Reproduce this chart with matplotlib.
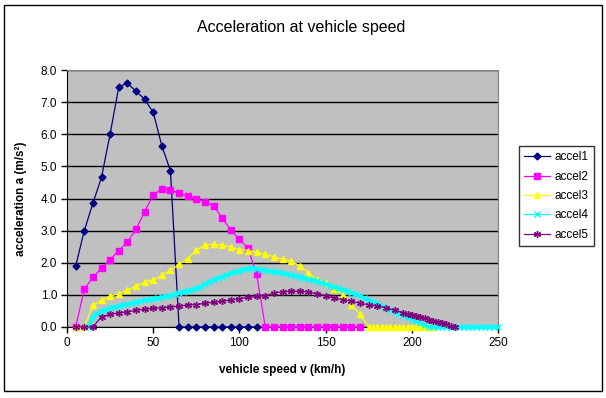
import matplotlib
matplotlib.use('Agg')
import matplotlib.pyplot as plt
from matplotlib.patches import Rectangle

plt.rcParams['font.family'] = ['Liberation Sans', 'DejaVu Sans']

# accel1 (1st gear)
speed1 = [5, 10, 15, 20, 25, 30, 35, 40, 45, 50, 55, 60, 65, 70, 75, 80, 85, 90, 95, 100, 105, 110]
accel1 = [1.89, 3.0, 3.85, 4.66, 6.01, 7.47, 7.59, 7.34, 7.09, 6.68, 5.64, 4.86,
          0, 0, 0, 0, 0, 0, 0, 0, 0, 0]

# accel2
speed2 = [5, 10, 15, 20, 25, 30, 35, 40, 45, 50, 55, 60, 65, 70, 75, 80, 85, 90, 95, 100, 105, 110,
          115, 120, 125, 130, 135, 140, 145, 150, 155, 160, 165, 170]
accel2 = [0, 1.17, 1.55, 1.83, 2.1, 2.38, 2.64, 3.04, 3.59, 4.11, 4.3, 4.27, 4.16, 4.08, 3.98, 3.9,
          3.78, 3.39, 3.02, 2.73, 2.45, 1.64,
          0, 0, 0, 0, 0, 0, 0, 0, 0, 0, 0, 0]

# accel3
speed3 = [5, 10, 15, 20, 25, 30, 35, 40, 45, 50, 55, 60, 65, 70, 75, 80, 85, 90, 95, 100, 105, 110,
          115, 120, 125, 130, 135, 140, 145, 150, 155, 160, 165, 170,
          175, 177.5, 180, 182.5, 185, 187.5, 190, 192.5, 195, 197.5, 200, 202.5, 205, 207.5, 210, 212.5]
accel3 = [0, 0, 0.67, 0.83, 0.96, 1.04, 1.15, 1.27, 1.40, 1.46, 1.61, 1.77, 1.95, 2.13, 2.39, 2.55,
          2.58, 2.55, 2.49, 2.41, 2.38, 2.33, 2.27, 2.18, 2.12, 2.04, 1.91, 1.68, 1.48, 1.36, 1.19,
          1.01, 0.70, 0.39,
          0, 0, 0, 0, 0, 0, 0, 0, 0, 0, 0, 0, 0, 0, 0, 0]

# accel4
speed4 = [12.5, 15, 17.5, 20, 22.5, 25, 27.5, 30, 32.5, 35, 37.5, 40, 42.5, 45, 47.5, 50,
          52.5, 55, 57.5, 60, 62.5, 65, 67.5, 70, 72.5, 75, 77.5, 80, 82.5, 85, 87.5, 90,
          92.5, 95, 97.5, 100, 102.5, 105, 107.5, 110, 112.5, 115, 117.5, 120, 122.5, 125,
          127.5, 130, 132.5, 135, 137.5, 140, 142.5, 145, 147.5, 150, 152.5, 155, 157.5, 160,
          162.5, 165, 167.5, 170, 172.5, 175, 177.5, 180, 182.5, 185, 187.5, 190, 192.5, 195,
          197.5, 200, 202.5, 205, 207.5, 210, 212.5, 215, 217.5, 220, 222.5, 225, 227.5, 230,
          232.5, 235, 237.5, 240, 242.5, 245, 247.5, 250]
accel4 = [0.00, 0.32, 0.42, 0.49, 0.54, 0.58, 0.62, 0.65, 0.68, 0.71, 0.74, 0.77, 0.80, 0.83,
          0.86, 0.88, 0.90, 0.93, 0.95, 0.98, 1.02, 1.06, 1.10, 1.13, 1.16, 1.20, 1.26, 1.33,
          1.41, 1.47, 1.52, 1.57, 1.62, 1.67, 1.71, 1.75, 1.79, 1.82, 1.83, 1.81, 1.78, 1.76,
          1.74, 1.72, 1.70, 1.68, 1.65, 1.62, 1.59, 1.56, 1.52, 1.49, 1.46, 1.43, 1.38, 1.33,
          1.29, 1.25, 1.20, 1.16, 1.12, 1.07, 1.02, 0.96, 0.90, 0.84, 0.78, 0.72, 0.66, 0.60,
          0.54, 0.48, 0.42, 0.36, 0.30, 0.24, 0.18, 0.12, 0.06, 0.00,
          0, 0, 0, 0, 0, 0, 0, 0, 0, 0, 0, 0, 0, 0, 0, 0]

# accel5
speed5 = [5, 10, 15, 20, 25, 30, 35, 40, 45, 50, 55, 60, 65, 70, 75, 80, 85, 90, 95, 100, 105, 110,
          115, 120, 125, 130, 135, 140, 145, 150, 155, 160, 165, 170, 175, 180, 185, 190, 195,
          197.5, 200, 202.5, 205, 207.5, 210, 212.5, 215, 217.5, 220, 222.5, 225]
accel5 = [0, 0, 0, 0.32, 0.39, 0.44, 0.47, 0.52, 0.55, 0.58, 0.60, 0.62, 0.65, 0.68, 0.70, 0.74,
          0.77, 0.80, 0.84, 0.88, 0.92, 0.95, 0.98, 1.05, 1.10, 1.11, 1.11, 1.09, 1.04, 0.97, 0.90,
          0.85, 0.80, 0.74, 0.69, 0.65, 0.60, 0.52, 0.45,
          0.41, 0.37, 0.34, 0.30, 0.27, 0.23, 0.19, 0.16, 0.12, 0.08, 0.04, 0.0]

# label, x, y, colour, marker, marker size, line width
series = [
    ('accel1', speed1, accel1, '#000080', 'D', 3.5, 0.9),
    ('accel2', speed2, accel2, '#FF00FF', 's', 4.5, 0.9),
    ('accel3', speed3, accel3, '#FFFF00', '^', 5, 0.9),
    ('accel4', speed4, accel4, '#00FFFF', 'x', 4, 2.5),
    ('accel5', speed5, accel5, '#800080', (6, 2, 0), 5, 0.9),
]

fig = plt.figure(figsize=(6.06, 3.98), dpi=100)
ax = fig.add_axes([0.1106, 0.1784, 0.7112, 0.6457])
ax.set_facecolor('#C0C0C0')

for label, v, a, color, marker, ms, lw in series:
    ax.plot(v, a, color=color, lw=lw, marker=marker, ms=ms, mfc=color, mec=color,
            mew=1.0, label=label, clip_on=False, zorder=3)

ax.set_xlim(0, 250)
ax.set_ylim(0, 8)
ax.set_xticks([0, 50, 100, 150, 200, 250])
ax.set_yticks([0, 1, 2, 3, 4, 5, 6, 7, 8])
ax.set_yticklabels(['%.1f' % t for t in ax.get_yticks()])
ax.grid(axis='y', color='black', lw=1.0, zorder=1)
ax.set_axisbelow(True)
ax.tick_params(direction='out', length=4, width=1, labelsize=8.5, pad=3)

for side in ['top', 'right']:
    ax.spines[side].set_color('#808080')
for side in ['left', 'bottom']:
    ax.spines[side].set_color('black')

ax.set_xlabel('vehicle speed v (km/h)', fontsize=8.5, fontweight='bold', labelpad=11)
ax.set_ylabel('acceleration a (m/s²)', fontsize=8.5, fontweight='bold', labelpad=10)

fig.text(0.497, 0.93, 'Acceleration at vehicle speed', ha='center', va='center', fontsize=11.5)

leg = fig.legend(loc='upper left', bbox_to_anchor=(0.856, 0.633), fontsize=8.5,
                 frameon=True, fancybox=False, borderaxespad=0, handlelength=2.2,
                 labelspacing=0.62, borderpad=0.45, handletextpad=0.4)
leg.get_frame().set_edgecolor('black')
leg.get_frame().set_linewidth(1.0)
leg.legend_handles[3].set_linewidth(0.9)

fig.patches.append(Rectangle((0.0066, 0.0176), 0.9868, 0.97, transform=fig.transFigure,
                             fill=False, edgecolor='black', lw=1.0))

fig.savefig('out.png', dpi=100)
